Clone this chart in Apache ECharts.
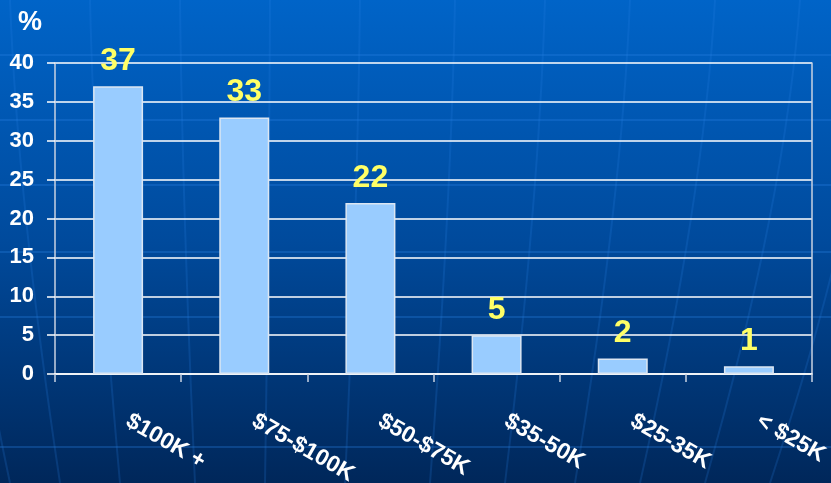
<!DOCTYPE html>
<html>
<head>
<meta charset="utf-8">
<script src="https://cdn.jsdelivr.net/npm/echarts@6/dist/echarts.min.js"></script>
<style>
html,body{margin:0;padding:0;background:#004a9c;}
#chart{width:831px;height:483px;}
</style>
</head>
<body>
<div id="chart"></div>
<script>
const categories = ['$100K +', '$75-$100K', '$50-$75K', '$35-50K', '$25-35K', '< $25K'];
const values = [37, 33, 22, 5, 2, 1];
const yTicks = [0, 5, 10, 15, 20, 25, 30, 35, 40];
const unitLabel = '%';

const FONT = '"Liberation Sans", Arial, sans-serif';

// decorative globe lines (background only)
const deco = [];
[55, 120, 185, 252, 317, 447].forEach(function (y) {
  deco.push({type: 'line', silent: true, z: -10,
    shape: {x1: 0, y1: y, x2: 831, y2: y},
    style: {stroke: 'rgba(40,130,230,0.3)', lineWidth: 2}});
});
[[-60, 10], [10, 60], [90, 120], [180, 195], [270, 265], [360, 345], [455, 430], [545, 505], [630, 575], [715, 640], [800, 705], [880, 770]].forEach(function (p) {
  deco.push({type: 'bezierCurve', silent: true, z: -10,
    shape: {x1: p[0], y1: 0, cpx1: p[0] + (p[1] - p[0]) * 0.15, cpy1: 200, x2: p[1], y2: 483},
    style: {stroke: 'rgba(40,130,230,0.2)', lineWidth: 2, fill: null}});
});

const chart = echarts.init(document.getElementById('chart'), null, {renderer: 'canvas'});
chart.setOption({
  animation: false,
  backgroundColor: {
    type: 'linear', x: 0, y: 0, x2: 0, y2: 1,
    colorStops: [
      {offset: 0, color: '#0064C8'},
      {offset: 0.5, color: '#004A9C'},
      {offset: 1, color: '#00275A'}
    ]
  },
  graphic: deco,
  title: {
    text: unitLabel, left: 13, top: 4,
    textStyle: {color: '#ffffff', fontSize: 27, fontWeight: 'bold', fontFamily: FONT}
  },
  grid: {left: 55, right: 19, top: 63, bottom: 109, containLabel: false, outerBoundsMode: 'none'},
  xAxis: {
    type: 'category',
    data: categories,
    boundaryGap: true,
    axisLine: {show: true, lineStyle: {color: '#ffffff', width: 1.5}},
    axisTick: {show: true, length: 8, alignWithLabel: false, lineStyle: {color: '#C8D2E2', width: 1.5}},
    axisLabel: {
      rotate: -30, margin: 40, interval: 0, padding: [0, 0, 0, 11],
      color: '#ffffff', fontSize: 23, fontWeight: 'bold', fontFamily: FONT
    },
    splitLine: {show: false}
  },
  yAxis: [{
    type: 'value',
    min: 0, max: 40, interval: 5,
    axisLine: {show: true, lineStyle: {color: '#C8D2E2', width: 1.5}},
    axisTick: {show: true, length: 8, lineStyle: {color: '#ffffff', width: 1.5}},
    axisLabel: {
      margin: 21, color: '#ffffff', fontSize: 22, fontWeight: 'bold', fontFamily: FONT,
      formatter: function (v) { return yTicks.indexOf(v) >= 0 ? String(v) : ''; }
    },
    splitLine: {show: true, lineStyle: {color: '#ffffff', width: 1.5}}
  }, {
    type: 'value', position: 'right',
    min: 0, max: 40, interval: 5,
    axisLine: {show: true, lineStyle: {color: '#C8D2E2', width: 1.5}},
    axisTick: {show: false}, axisLabel: {show: false}, splitLine: {show: false}
  }],
  series: [{
    type: 'bar',
    data: values,
    yAxisIndex: 0,
    barWidth: 50,
    itemStyle: {color: '#99CCFF', borderColor: '#DCE6F2', borderWidth: 1.5},
    label: {
      show: true, position: 'top', distance: 9,
      color: '#FFFF66', fontSize: 32, fontWeight: 'bold', fontFamily: FONT
    }
  }]
});
</script>
</body>
</html>
